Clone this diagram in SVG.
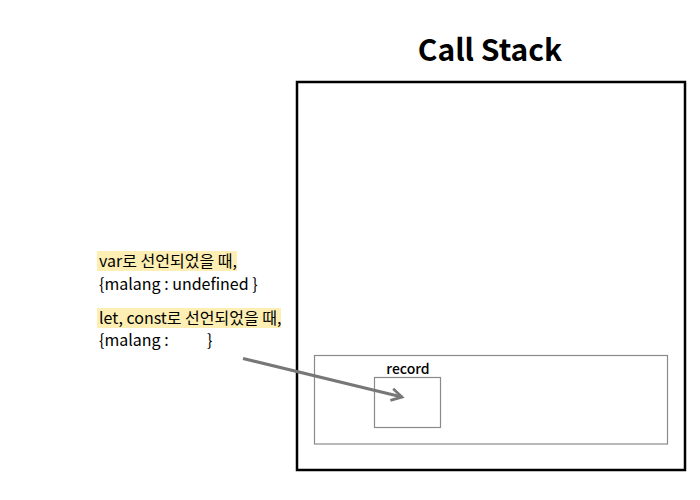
<svg xmlns="http://www.w3.org/2000/svg" width="700" height="500" viewBox="0 0 700 500">
<style>
text{font-family:"Noto Sans CJK KR","Noto Sans",sans-serif;fill:#000}
.t{font-size:16px}
.hl{fill:#fdefb3}
.thin{fill:none;stroke:#8a8a8a;stroke-width:1.2}
</style>
<defs>
<marker id="ah" viewBox="0 0 10 10" refX="8" refY="5" markerWidth="5" markerHeight="5" orient="auto" markerUnits="strokeWidth">
<path d="M1,1 L8,5 L1,9" fill="none" stroke="#777" stroke-width="1.8"/>
</marker>
</defs>
<rect width="700" height="500" fill="#fff"/>
<g id="title"><text x="490" y="61" text-anchor="middle" font-size="30" font-weight="bold">Call Stack</text></g>
<g id="callstack"><rect x="297" y="82" width="388" height="388" fill="none" stroke="#000" stroke-width="2.5"/></g>
<g id="context"><rect x="314.5" y="355.5" width="353" height="88.5" class="thin"/></g>
<g id="record">
<rect x="374.5" y="377.5" width="66" height="50" class="thin"/>
<text x="408" y="374" text-anchor="middle" font-size="14" font-weight="500">record</text>
</g>
<g id="notes">
<rect x="97" y="251" width="140" height="20" class="hl"/>
<text x="99" y="267" class="t">var로 선언되었을 때,</text>
<text x="99" y="290" class="t">{malang : undefined }</text>
<rect x="97" y="308" width="184" height="20" class="hl"/>
<text x="99" y="324" class="t">let, const로 선언되었을 때,</text>
<text x="99" y="346" class="t">{malang :</text>
<text x="207" y="346" class="t">}</text>
</g>
<g id="connectors">
<line x1="243" y1="358.5" x2="402" y2="397" stroke="#777" stroke-width="3" marker-end="url(#ah)"/>
</g>
</svg>
